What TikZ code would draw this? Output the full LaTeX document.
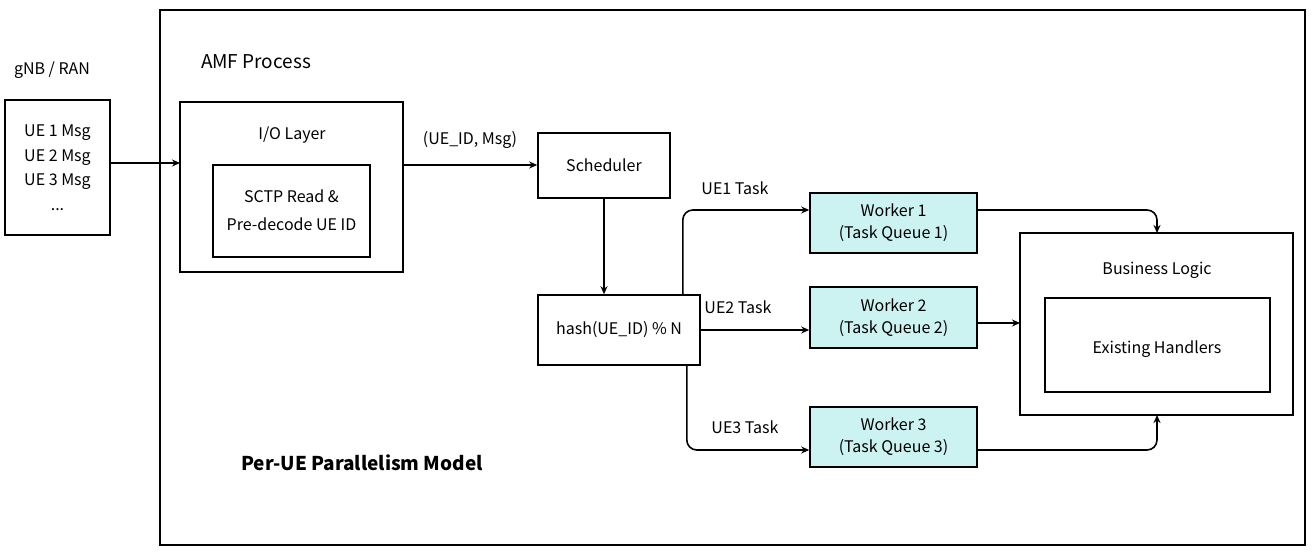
\documentclass[tikz,border=0pt]{standalone}
\usepackage{fontspec}
\setmainfont{Noto Sans CJK SC}
\usetikzlibrary{arrows.meta}
\begin{document}
\begin{tikzpicture}[x=1pt,y=-1pt,
  box/.style={draw,line width=1.6pt},
  wk/.style={box,fill={rgb,255:red,204;green,242;blue,242},align=center,font=\fontsize{16}{22}\selectfont},
  arr/.style={line width=1.6pt,-{Stealth[length=8pt,width=7pt]},rounded corners=10pt},
  lab/.style={font=\fontsize{16}{19}\selectfont}]
\useasboundingbox (0,0) rectangle (1316,553);
\draw[box] (160,10) rectangle (1305,545);
\node[font=\fontsize{19}{22}\selectfont] (amf) at (256,62) {AMF Process};
\node[lab] (gnb) at (52,70) {gNB / RAN};
\draw[box] (5,100) rectangle (110,235);
\node[lab,align=center,font=\fontsize{16}{24.5}\selectfont] (ue) at (57.5,167.5) {UE 1 Msg\\UE 2 Msg\\UE 3 Msg\\...};
\coordinate (ueR) at (110,163);
\draw[box] (180,102) rectangle (403,272);
\node[lab] (io) at (292,135) {I/O Layer};
\draw[box] (213,165) rectangle (370,257);
\node[lab,align=center,font=\fontsize{16}{28}\selectfont] (sctp) at (291.5,210) {SCTP Read \&\\Pre-decode UE ID};
\coordinate (ioL) at (180,163);
\coordinate (ioR) at (403,165);
\node[box,minimum width=132pt,minimum height=65pt,lab] (sch) at (604,165.5) {Scheduler};
\node[lab] (l0) at (470,140) {(UE\_ID, Msg)};
\node[box,minimum width=162pt,minimum height=70pt,lab] (hash) at (619,330) {hash(UE\_ID) \% N};
\node[wk,minimum width=167pt,minimum height=60pt] (w1) at (893.5,223) {Worker 1\\(Task Queue 1)};
\node[wk,minimum width=167pt,minimum height=61pt] (w2) at (893.5,317.5) {Worker 2\\(Task Queue 2)};
\node[wk,minimum width=167pt,minimum height=60pt] (w3) at (893.5,437) {Worker 3\\(Task Queue 3)};
\draw[box] (1020,233) rectangle (1293,415);
\node[lab] (bl) at (1157,270) {Business Logic};
\draw[box] (1045,298) rectangle (1270,392);
\node[lab] (eh) at (1157,349) {Existing Handlers};
\coordinate (blT) at (1157,233);
\coordinate (blB) at (1157,415);
\coordinate (blL) at (1020,323);
\node[lab] (l1) at (735,188) {UE1 Task};
\node[lab] (l2) at (738,307) {UE2 Task};
\node[lab] (l3) at (745,427) {UE3 Task};
\node[font=\bfseries\fontsize{19}{22}\selectfont] (pm) at (362,463) {Per-UE Parallelism Model};
\draw[arr] (ueR) -- (ioL);
\draw[arr] (ioR) -- (sch.west|-ioR);
\draw[arr] (sch.south) -- (sch.south|-hash.north);
\draw[arr] (hash.north east) ++(-18,0) |- (w1.west|-0,210);
\draw[arr] (hash.east) -- (w2.west|-hash.east);
\draw[arr] (hash.south east) ++(-14,0) |- (w3.west|-0,450);
\draw[arr] (w1.east|-0,210) -| (blT);
\draw[arr] (w2.east|-blL) -- (blL);
\draw[arr] (w3.east|-0,450) -| (blB);
\end{tikzpicture}
\end{document}
